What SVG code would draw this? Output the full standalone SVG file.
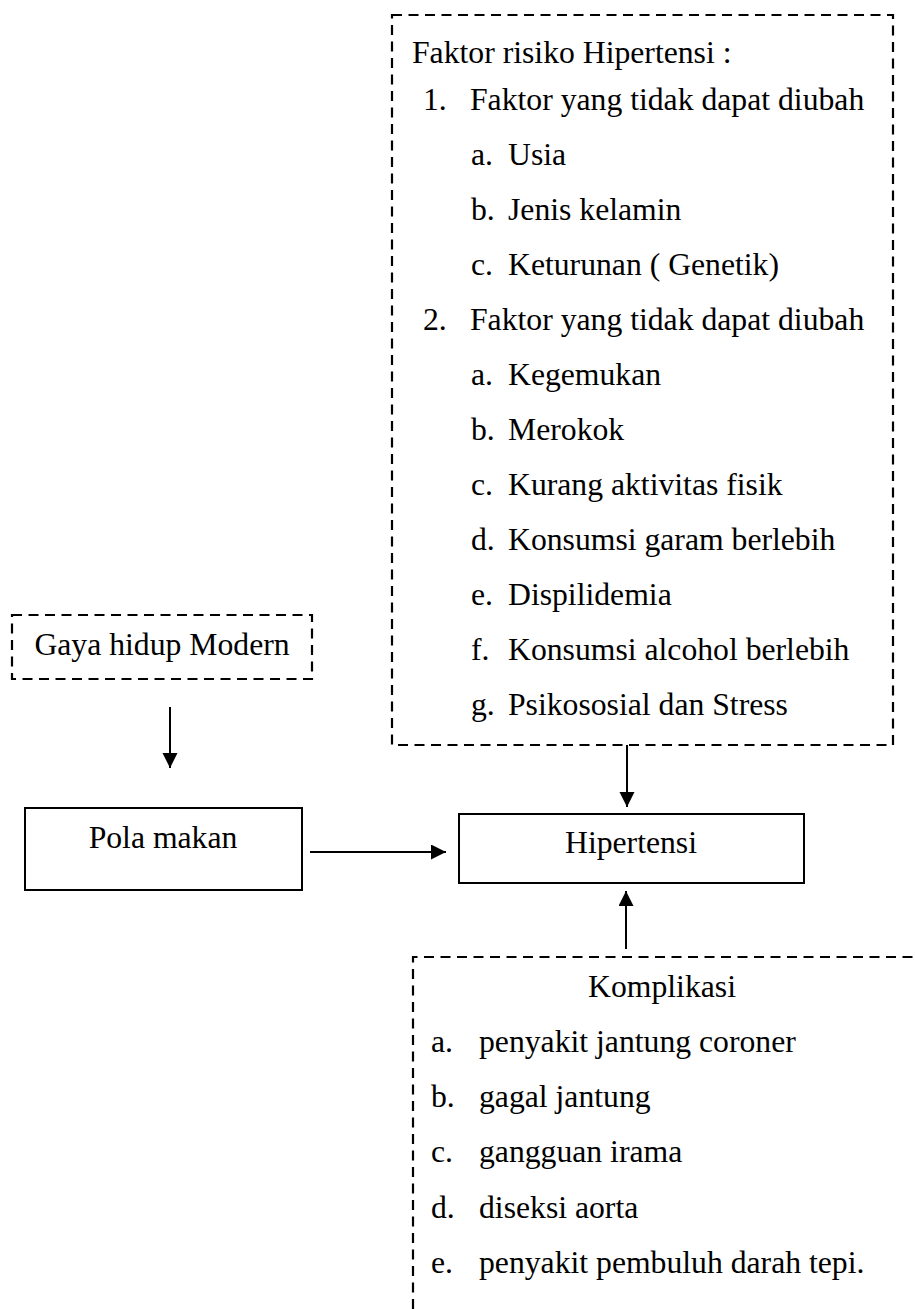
<svg xmlns="http://www.w3.org/2000/svg" width="915" height="1309" viewBox="0 0 915 1309">
<defs>
<marker id="ah" markerWidth="16" markerHeight="16" refX="15" refY="7.5" orient="auto" markerUnits="userSpaceOnUse">
<path d="M0,0 L15,7.5 L0,15 Z" fill="#000"/>
</marker>
<style>
.t{font-family:"Liberation Serif","Times New Roman",serif;font-size:31.7px;fill:#000}
.c{text-anchor:middle}
.dash{fill:none;stroke:#000;stroke-width:2.2;stroke-dasharray:10,6.5}
.solid{fill:none;stroke:#000;stroke-width:2}
.conn{stroke:#000;stroke-width:2;fill:none}
</style>
</defs>
<rect width="915" height="1309" fill="#fff"/>
<g id="faktor-risiko">
<rect class="dash" x="392" y="15" width="501" height="730"/>
<text class="t" x="412" y="63">Faktor risiko Hipertensi :</text>
<text class="t" x="423" y="110">1.</text><text class="t" x="470" y="110">Faktor yang tidak dapat diubah</text>
<text class="t" x="471" y="165">a.</text><text class="t" x="508" y="165">Usia</text>
<text class="t" x="471" y="220">b.</text><text class="t" x="508" y="220">Jenis kelamin</text>
<text class="t" x="471" y="275">c.</text><text class="t" x="508" y="275">Keturunan ( Genetik)</text>
<text class="t" x="423" y="330">2.</text><text class="t" x="470" y="330">Faktor yang tidak dapat diubah</text>
<text class="t" x="471" y="385">a.</text><text class="t" x="508" y="385">Kegemukan</text>
<text class="t" x="471" y="440">b.</text><text class="t" x="508" y="440">Merokok</text>
<text class="t" x="471" y="495">c.</text><text class="t" x="508" y="495">Kurang aktivitas fisik</text>
<text class="t" x="471" y="550">d.</text><text class="t" x="508" y="550">Konsumsi garam berlebih</text>
<text class="t" x="471" y="605">e.</text><text class="t" x="508" y="605">Dispilidemia</text>
<text class="t" x="471" y="660">f.</text><text class="t" x="508" y="660">Konsumsi alcohol berlebih</text>
<text class="t" x="471" y="715">g.</text><text class="t" x="508" y="715">Psikososial dan Stress</text>
</g>
<g id="gaya-hidup">
<rect class="dash" x="12" y="615" width="300" height="64"/>
<text class="t c" x="162" y="655">Gaya hidup Modern</text>
</g>
<g id="pola-makan">
<rect class="solid" x="25" y="808" width="277" height="82"/>
<text class="t c" x="163" y="848">Pola makan</text>
</g>
<g id="hipertensi">
<rect class="solid" x="459" y="814" width="345" height="69"/>
<text class="t c" x="631" y="853">Hipertensi</text>
</g>
<g id="komplikasi">
<path class="dash" d="M413,1309 L413,957 L920,957"/>
<text class="t c" x="662" y="997">Komplikasi</text>
<text class="t" x="431" y="1052">a.</text><text class="t" x="479" y="1052">penyakit jantung coroner</text>
<text class="t" x="431" y="1107">b.</text><text class="t" x="479" y="1107">gagal jantung</text>
<text class="t" x="431" y="1162">c.</text><text class="t" x="479" y="1162">gangguan irama</text>
<text class="t" x="431" y="1218">d.</text><text class="t" x="479" y="1218">diseksi aorta</text>
<text class="t" x="431" y="1273">e.</text><text class="t" x="479" y="1273">penyakit pembuluh darah tepi.</text>
</g>
<g id="connectors">
<line class="conn" x1="170" y1="707" x2="170" y2="768" marker-end="url(#ah)"/>
<line class="conn" x1="310" y1="852" x2="446" y2="852" marker-end="url(#ah)"/>
<line class="conn" x1="627" y1="745" x2="627" y2="807" marker-end="url(#ah)"/>
<line class="conn" x1="626" y1="949" x2="626" y2="891" marker-end="url(#ah)"/>
</g>
</svg>
